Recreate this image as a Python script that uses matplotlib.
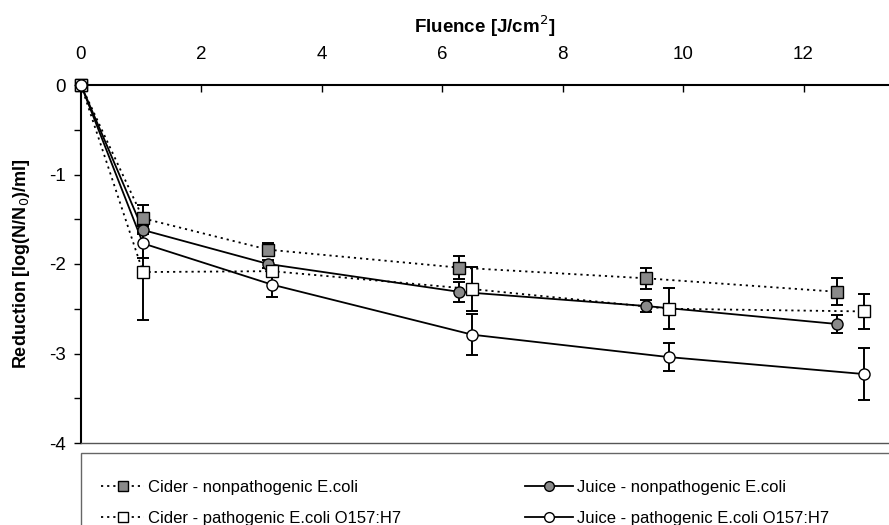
import matplotlib
matplotlib.use("Agg")
import matplotlib.pyplot as plt
from matplotlib.lines import Line2D
from matplotlib.patches import Rectangle
from matplotlib.ticker import MultipleLocator

plt.rcParams['font.family'] = ['Liberation Sans', 'DejaVu Sans']
plt.rcParams['axes.unicode_minus'] = False

# fluence [J/cm2] and reduction values
fluence_np = [0, 1.03, 3.11, 6.27, 9.39, 12.55]
fluence_p = [0, 1.03, 3.17, 6.50, 9.76, 13.01]

cider_np = [0, -1.49, -1.84, -2.04, -2.16, -2.31]
cider_np_err = [0, 0.15, 0.07, 0.13, 0.12, 0.15]

juice_np = [0, -1.62, -2.00, -2.31, -2.47, -2.67]
juice_np_err = [0, 0.05, 0.05, 0.11, 0.07, 0.10]

cider_p = [0, -2.09, -2.08, -2.28, -2.50, -2.53]
cider_p_err = [0, 0.54, 0.05, 0.25, 0.23, 0.20]

juice_p = [0, -1.77, -2.23, -2.79, -3.04, -3.23]
juice_p_err = [0, 0.16, 0.14, 0.23, 0.16, 0.29]

labels = ['Cider - nonpathogenic E.coli', 'Juice - nonpathogenic E.coli',
          'Cider - pathogenic E.coli O157:H7', 'Juice - pathogenic E.coli O157:H7']

W, H = 889, 525
fig = plt.figure(figsize=(W / 100, H / 100), dpi=100)
ax = fig.add_axes([81 / W, 1 - 443 / H, 1 - 81 / W, (443 - 85) / H])

dotted = (0, (1.2, 2.2))
grey = '#8a8a8a'
series = [
    (fluence_np, cider_np, cider_np_err, dotted, 's', grey),
    (fluence_np, juice_np, juice_np_err, '-', 'o', grey),
    (fluence_p, cider_p, cider_p_err, dotted, 's', 'white'),
    (fluence_p, juice_p, juice_p_err, '-', 'o', 'white'),
]
handles = []
for x, y, e, ls, mk, fc in series:
    ax.errorbar(x, y, yerr=e, fmt='none', ecolor='black', elinewidth=1.4,
                capsize=4.3, capthick=1.4, zorder=2, clip_on=False)
    ax.plot(x, y, color='black', linestyle=ls, linewidth=1.3, zorder=3, clip_on=False)
    ax.plot(x, y, linestyle='none', marker=mk, markersize=8, markerfacecolor=fc,
            markeredgecolor='black', markeredgewidth=1, zorder=4, clip_on=False)
    handles.append(Line2D([], [], color='black', linestyle=ls, linewidth=1.3, marker=mk,
                          markersize=7, markerfacecolor=fc, markeredgecolor='black'))

ax.set_xlim(0, 13.42)
ax.set_ylim(-4, 0)
ax.xaxis.set_ticks_position('top')
ax.xaxis.set_label_position('top')
ax.set_xticks(range(0, 13, 2))
ax.yaxis.set_major_locator(MultipleLocator(1))
ax.yaxis.set_minor_locator(MultipleLocator(0.5))
ax.tick_params(axis='x', direction='in', length=5, width=1, pad=16, labelsize=13.5)
ax.tick_params(axis='y', which='both', direction='out', length=5, width=1, pad=6, labelsize=13.5)
ax.set_xlabel('Fluence [J/cm$^2$]', fontsize=13.5, fontweight='bold', labelpad=9)
ax.set_ylabel('Reduction [log(N/N$_0$)/ml]', fontsize=13, fontweight='bold', labelpad=12)
for s in ['top', 'left']:
    ax.spines[s].set_linewidth(1.5)
ax.spines['bottom'].set_linewidth(1)
ax.spines['bottom'].set_color('#555555')
ax.spines['right'].set_visible(False)

# legend box below the plot
fig.patches.append(Rectangle((81 / W, -0.05), 1, (525 - 453) / H + 0.05,
                             transform=fig.transFigure, fill=False,
                             edgecolor='#666666', linewidth=1))
for i, (x0, hl) in enumerate([(101 / W, 2.6), (525 / W, 2.9)]):
    fig.legend([handles[i], handles[i + 2]], [labels[i], labels[i + 2]],
               loc='upper left', bbox_to_anchor=(x0, 1 - 480 / H), frameon=False,
               fontsize=12, handlelength=hl, handletextpad=0.2,
               labelspacing=0.95, borderpad=0, borderaxespad=0)

fig.savefig('out.png', dpi=100)
